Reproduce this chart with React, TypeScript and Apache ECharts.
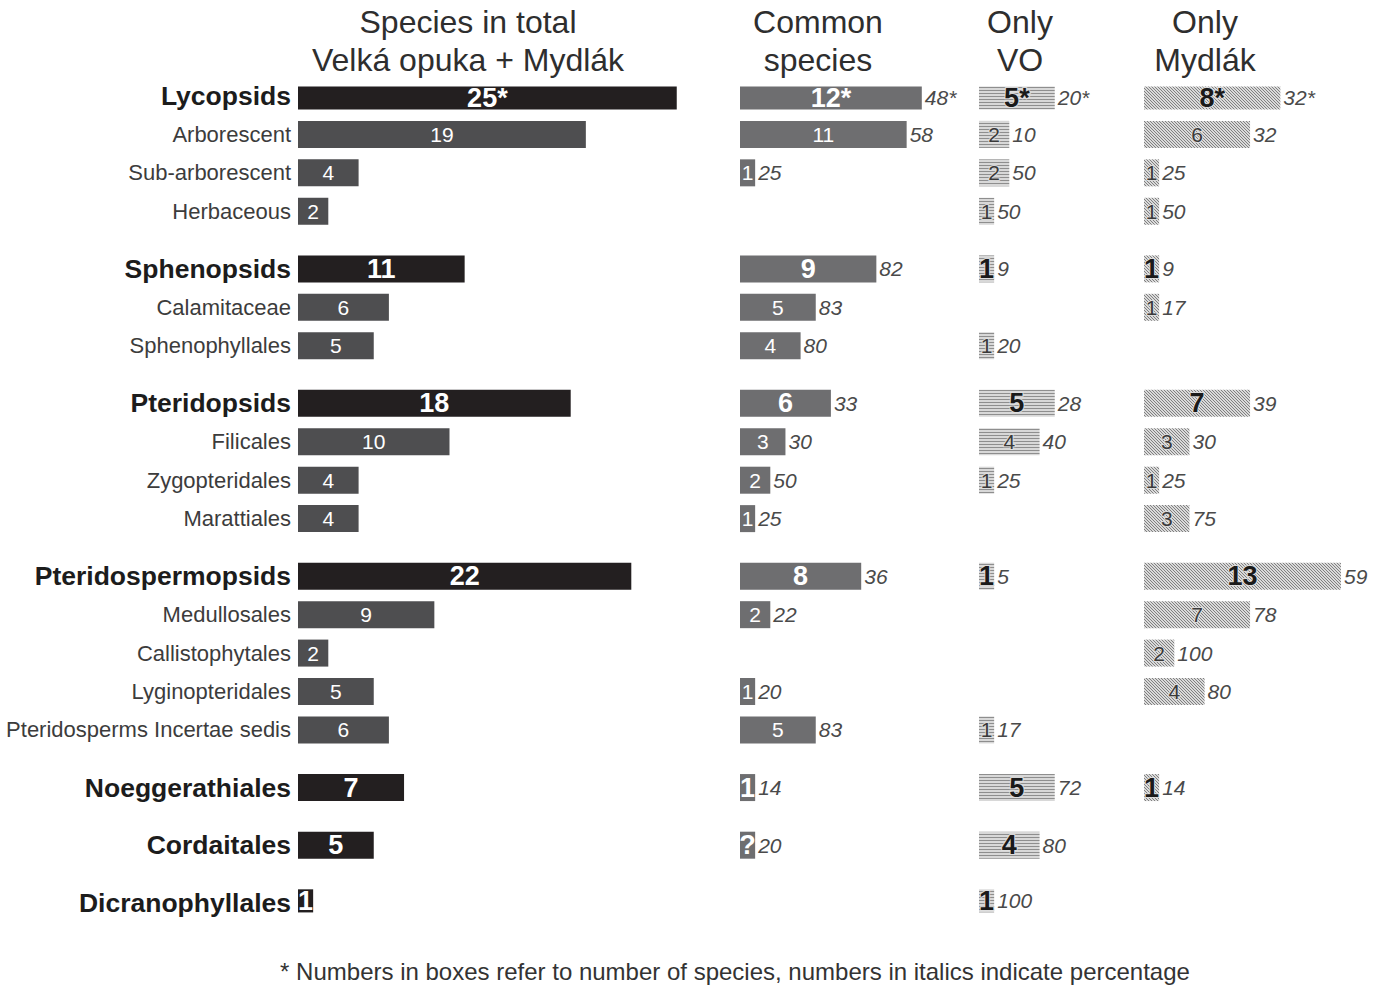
import React, { useEffect, useRef } from 'react';
import * as echarts from 'echarts';

// ---------- data ----------
const rowNames = [
  'Lycopsids', 'Arborescent', 'Sub-arborescent', 'Herbaceous',
  'Sphenopsids', 'Calamitaceae', 'Sphenophyllales',
  'Pteridopsids', 'Filicales', 'Zygopteridales', 'Marattiales',
  'Pteridospermopsids', 'Medullosales', 'Callistophytales', 'Lyginopteridales', 'Pteridosperms Incertae sedis',
  'Noeggerathiales', 'Cordaitales', 'Dicranophyllales',
];
const rowIsGroup = [
  true, false, false, false,
  true, false, false,
  true, false, false, false,
  true, false, false, false, false,
  true, true, true,
];

// Species in total (Velká opuka + Mydlák)
const totalValues = [25, 19, 4, 2, 11, 6, 5, 18, 10, 4, 4, 22, 9, 2, 5, 6, 7, 5, 1];
const totalLabels = ['25*', '19', '4', '2', '11', '6', '5', '18', '10', '4', '4', '22', '9', '2', '5', '6', '7', '5', '1'];

// Common species
const commonValues = [12, 11, 1, null, 9, 5, 4, 6, 3, 2, 1, 8, 2, null, 1, 5, 1, 1, null];
const commonLabels = ['12*', '11', '1', '', '9', '5', '4', '6', '3', '2', '1', '8', '2', '', '1', '5', '1', '?', ''];
const commonPct = ['48*', '58', '25', '', '82', '83', '80', '33', '30', '50', '25', '36', '22', '', '20', '83', '14', '20', ''];

// Only VO
const voValues = [5, 2, 2, 1, 1, null, 1, 5, 4, 1, null, 1, null, null, null, 1, 5, 4, 1];
const voLabels = ['5*', '2', '2', '1', '1', '', '1', '5', '4', '1', '', '1', '', '', '', '1', '5', '4', '1'];
const voPct = ['20*', '10', '50', '50', '9', '', '20', '28', '40', '25', '', '5', '', '', '', '17', '72', '80', '100'];

// Only Mydlák (bar lengths as drawn in the figure)
const mydValues = [9, 7, 1, 1, 1, 1, null, 7, 3, 1, 3, 13, 7, 2, 4, null, 1, null, null];
const mydLabels = ['8*', '6', '1', '1', '1', '1', '', '7', '3', '1', '3', '13', '7', '2', '4', '', '1', '', ''];
const mydPct = ['32*', '32', '25', '50', '9', '17', '', '39', '30', '25', '75', '59', '78', '100', '80', '', '14', '', ''];

const panelTitles = ['Species in total\nVelká opuka + Mydlák', 'Common\nspecies', 'Only\nVO', 'Only\nMydlák'];
const footnote = '* Numbers in boxes refer to number of species, numbers in italics indicate percentage';

// ---------- styling ----------
const FONT = '"Liberation Sans", Arial, sans-serif';
const PX_PER_UNIT = 15.15;

function makePattern(kind: 'h' | 'd'): HTMLCanvasElement {
  const c = document.createElement('canvas');
  const ctx = c.getContext('2d')!;
  if (kind === 'h') {
    c.width = 4; c.height = 3;
    ctx.fillStyle = '#d8d8d8'; ctx.fillRect(0, 0, 4, 3);
    ctx.fillStyle = '#8e8e8e'; ctx.fillRect(0, 0, 4, 1);
  } else {
    c.width = 3; c.height = 3;
    ctx.fillStyle = '#dadada'; ctx.fillRect(0, 0, 3, 3);
    ctx.fillStyle = '#808080';
    for (let i = 0; i < 3; i++) ctx.fillRect(i, i, 1, 1);
  }
  return c;
}

export default function App() {
  const ref = useRef<HTMLDivElement>(null);

  useEffect(() => {
    document.body.style.margin = '0';
    if (!ref.current) return;
    const chart = echarts.init(ref.current, undefined, { renderer: 'svg' });

    // slot layout: each row takes 2 half-slots, each new group adds one extra half-slot gap
    const slotOfRow: number[] = [];
    let gc = 0;
    rowNames.forEach((_, i) => {
      if (rowIsGroup[i]) gc++;
      slotOfRow.push(2 * i + (gc - 1));
    });
    const nSlots = slotOfRow[slotOfRow.length - 1] + 1;
    const rowOfSlot: number[] = new Array(nSlots).fill(-1);
    slotOfRow.forEach((s, i) => { rowOfSlot[s] = i; });
    const categories = rowOfSlot.map((r) => (r >= 0 ? rowNames[r] : ''));

    const slotH = 19.21;
    const firstCenter = 96;
    const gridTop = firstCenter - slotH / 2;
    const gridH = slotH * nSlots;

    const hPattern = makePattern('h');
    const dPattern = makePattern('d');

    const panels = [
      { left: 298, max: 25, values: totalValues, labels: totalLabels, pct: null as string[] | null, kind: 'total' },
      { left: 740, max: 12, values: commonValues, labels: commonLabels, pct: commonPct, kind: 'common' },
      { left: 979, max: 5, values: voValues, labels: voLabels, pct: voPct, kind: 'vo' },
      { left: 1144, max: 13, values: mydValues, labels: mydLabels, pct: mydPct, kind: 'myd' },
    ];

    const grids = panels.map((p) => ({
      left: p.left, top: gridTop, width: p.max * PX_PER_UNIT, height: gridH,
      containLabel: false, outerBoundsMode: 'none',
    }));
    const xAxes = panels.map((p, i) => ({
      type: 'value', gridIndex: i, min: 0, max: p.max, show: false,
    }));
    const yAxes = panels.map((p, i) => ({
      type: 'category', gridIndex: i, data: categories, inverse: true,
      show: i === 0,
      axisLine: { show: false }, axisTick: { show: false }, splitLine: { show: false },
      axisLabel: {
        show: i === 0, interval: 0, margin: 7,
        formatter: (v: string) => {
          if (!v) return '';
          const r = rowNames.indexOf(v);
          return rowIsGroup[r] ? `{g|${v}}` : `{s|${v}}`;
        },
        rich: {
          g: { fontFamily: FONT, fontWeight: 'bold', fontSize: 26.5, color: '#1c1c1c' },
          s: { fontFamily: FONT, fontSize: 22, color: '#3c3c3c' },
        },
      },
    }));

    const series: any[] = [];
    panels.forEach((p, pi) => {
      const barData = rowOfSlot.map((r) => {
        if (r < 0) return '-';
        const v = p.values[r];
        if (v == null) return '-';
        const g = rowIsGroup[r];
        let color: any;
        if (p.kind === 'total') color = g ? '#231f20' : '#4e4e50';
        else if (p.kind === 'common') color = '#6e6e70';
        else if (p.kind === 'vo') color = { image: hPattern, repeat: 'repeat' };
        else color = { image: dPattern, repeat: 'repeat' };
        const light = p.kind === 'total' || p.kind === 'common';
        return {
          value: v,
          itemStyle: { color },
          label: {
            show: true,
            position: 'inside',
            formatter: p.labels[r],
            fontFamily: FONT,
            fontWeight: g ? 'bold' : 'normal',
            fontSize: g ? 27 : 21,
            color: light ? '#ffffff' : (g ? '#1a1a1a' : '#3a3a3a'),
            textBorderColor: light ? 'transparent' : 'rgba(225,225,225,0.85)',
            textBorderWidth: light ? 0 : 2,
          },
        };
      });
      series.push({
        type: 'bar', xAxisIndex: pi, yAxisIndex: pi, data: barData,
        barWidth: 27, barGap: '-100%', silent: true,
      });
      if (p.pct) {
        const pctData = rowOfSlot.map((r) => {
          if (r < 0) return '-';
          const v = p.values[r];
          if (v == null) return '-';
          return {
            value: v,
            label: {
              show: true, position: 'right', distance: 3,
              formatter: p.pct![r],
              fontFamily: FONT, fontStyle: 'italic', fontSize: 21, color: '#4a4a4a',
            },
          };
        });
        series.push({
          type: 'bar', xAxisIndex: pi, yAxisIndex: pi, data: pctData,
          barWidth: 27, barGap: '-100%', silent: true,
          itemStyle: { color: 'rgba(0,0,0,0)' },
        });
      }
    });

    const titleCenters = [468, 818, 1020, 1205];
    const graphics: any[] = panelTitles.map((t, i) => ({
      type: 'text', x: titleCenters[i], y: 3,
      style: {
        text: t, fill: '#2e2e2e', fontFamily: FONT, fontSize: 32, lineHeight: 38,
        textAlign: 'center', textVerticalAlign: 'top',
      },
    }));
    graphics.push({
      type: 'text', x: 735, y: 971,
      style: {
        text: footnote, fill: '#333333', fontFamily: FONT, fontSize: 24,
        textAlign: 'center', textVerticalAlign: 'middle',
      },
    });

    chart.setOption({
      animation: false,
      backgroundColor: '#ffffff',
      grid: grids,
      xAxis: xAxes,
      yAxis: yAxes,
      series,
      graphic: graphics,
    });

    return () => chart.dispose();
  }, []);

  return <div ref={ref} style={{ width: 1386, height: 986 }} />;
}
